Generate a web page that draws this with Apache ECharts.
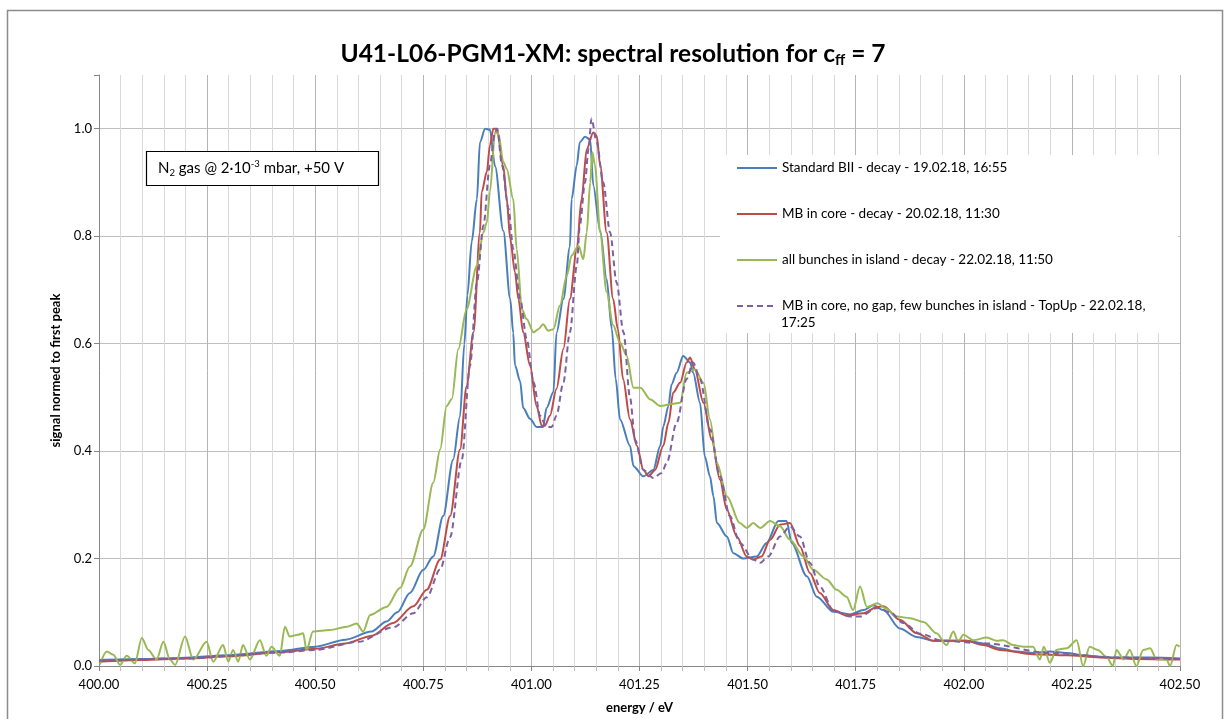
<!DOCTYPE html>
<html>
<head>
<meta charset="utf-8">
<title>U41-L06-PGM1-XM: spectral resolution</title>
<script src="https://cdn.jsdelivr.net/npm/echarts@6/dist/echarts.min.js"></script>
<style>
    html, body { margin: 0; padding: 0; background: #fff; }
    #chart { width: 1226px; height: 719px; }
</style>
</head>
<body>
<div id="chart"></div>
<script>
// [energy / eV, signal normed to first peak]
var standardBII = [
    [400.000, 0.011], [400.100, 0.013], [400.190, 0.015], [400.300, 0.020], [400.420, 0.028],
    [400.500, 0.036], [400.570, 0.049], [400.630, 0.064], [400.665, 0.083], [400.690, 0.100],
    [400.719, 0.136], [400.750, 0.179], [400.773, 0.204], [400.796, 0.279], [400.819, 0.384],
    [400.835, 0.465], [400.845, 0.600], [400.852, 0.690], [400.862, 0.790], [400.874, 0.869],
    [400.881, 0.975], [400.893, 1.000], [400.904, 0.998], [400.916, 0.930], [400.935, 0.810],
    [400.951, 0.683], [400.958, 0.620], [400.962, 0.560], [400.974, 0.530], [400.981, 0.480],
    [400.997, 0.460], [401.012, 0.445], [401.027, 0.445], [401.035, 0.480], [401.051, 0.510],
    [401.058, 0.620], [401.074, 0.683], [401.089, 0.780], [401.093, 0.869], [401.105, 0.932],
    [401.112, 0.975], [401.124, 0.985], [401.136, 0.980], [401.143, 0.895], [401.159, 0.810],
    [401.174, 0.720], [401.186, 0.627], [401.195, 0.534], [401.205, 0.459], [401.228, 0.410],
    [401.236, 0.372], [401.259, 0.353], [401.282, 0.365], [401.298, 0.410], [401.305, 0.446],
    [401.317, 0.484], [401.324, 0.524], [401.336, 0.546], [401.351, 0.577], [401.367, 0.565],
    [401.374, 0.546], [401.390, 0.490], [401.401, 0.390], [401.413, 0.353], [401.421, 0.316],
    [401.429, 0.266], [401.452, 0.241], [401.467, 0.210], [401.490, 0.200], [401.521, 0.204],
    [401.544, 0.229], [401.571, 0.270], [401.590, 0.270], [401.602, 0.229], [401.637, 0.167],
    [401.660, 0.129], [401.698, 0.101], [401.737, 0.096], [401.768, 0.104], [401.791, 0.113],
    [401.814, 0.104], [401.852, 0.070], [401.891, 0.054], [401.930, 0.047], [401.968, 0.047],
    [402.006, 0.047], [402.045, 0.042], [402.084, 0.033], [402.122, 0.027], [402.160, 0.024],
    [402.199, 0.027], [402.238, 0.024], [402.276, 0.020], [402.315, 0.017], [402.353, 0.016],
    [402.430, 0.016], [402.500, 0.014]
];

var mbInCore = [
    [400.000, 0.008], [400.100, 0.011], [400.200, 0.014], [400.300, 0.018], [400.420, 0.026],
    [400.500, 0.032], [400.570, 0.042], [400.630, 0.056], [400.680, 0.080], [400.727, 0.111],
    [400.758, 0.142], [400.789, 0.198], [400.812, 0.279], [400.835, 0.403], [400.850, 0.520],
    [400.866, 0.621], [400.881, 0.807], [400.885, 0.882], [400.897, 0.920], [400.904, 0.969],
    [400.912, 1.000], [400.920, 1.000], [400.935, 0.930], [400.943, 0.869], [400.951, 0.795],
    [400.962, 0.733], [400.970, 0.683], [400.981, 0.621], [400.997, 0.559], [401.012, 0.484],
    [401.024, 0.447], [401.031, 0.447], [401.043, 0.466], [401.058, 0.516], [401.074, 0.590],
    [401.089, 0.683], [401.105, 0.776], [401.116, 0.869], [401.128, 0.962], [401.143, 0.993],
    [401.151, 0.987], [401.159, 0.932], [401.174, 0.807], [401.189, 0.683], [401.200, 0.627],
    [401.212, 0.534], [401.228, 0.459], [401.244, 0.410], [401.259, 0.365], [401.271, 0.353],
    [401.286, 0.365], [401.305, 0.410], [401.317, 0.453], [401.328, 0.509], [401.344, 0.527],
    [401.359, 0.565], [401.367, 0.574], [401.378, 0.552], [401.398, 0.490], [401.417, 0.421],
    [401.436, 0.347], [401.452, 0.291], [401.475, 0.241], [401.498, 0.204], [401.513, 0.198],
    [401.532, 0.204], [401.552, 0.235], [401.575, 0.263], [401.598, 0.266], [401.621, 0.223],
    [401.644, 0.173], [401.667, 0.136], [401.698, 0.104], [401.729, 0.094], [401.768, 0.098],
    [401.799, 0.110], [401.814, 0.111], [401.852, 0.086], [401.891, 0.061], [401.930, 0.047],
    [402.006, 0.047], [402.045, 0.039], [402.084, 0.030], [402.160, 0.022], [402.238, 0.020],
    [402.315, 0.016], [402.400, 0.013], [402.500, 0.012]
];

var allInIsland = [
    [400.002, 0.003], [400.018, 0.027], [400.033, 0.021], [400.049, 0.002], [400.064, 0.019],
    [400.083, 0.005], [400.099, 0.052], [400.114, 0.030], [400.133, 0.012], [400.149, 0.045],
    [400.164, 0.012], [400.176, 0.002], [400.199, 0.055], [400.218, 0.012], [400.249, 0.045],
    [400.264, 0.008], [400.287, 0.039], [400.299, 0.008], [400.310, 0.030], [400.322, 0.008],
    [400.333, 0.039], [400.349, 0.012], [400.372, 0.048], [400.387, 0.019], [400.399, 0.036],
    [400.418, 0.019], [400.430, 0.073], [400.441, 0.055], [400.460, 0.058], [400.472, 0.061],
    [400.480, 0.030], [400.495, 0.064], [400.534, 0.067], [400.573, 0.073], [400.596, 0.079],
    [400.611, 0.064], [400.627, 0.095], [400.665, 0.110], [400.696, 0.145], [400.719, 0.185],
    [400.750, 0.254], [400.773, 0.341], [400.789, 0.403], [400.804, 0.484], [400.816, 0.497],
    [400.831, 0.590], [400.850, 0.664], [400.874, 0.745], [400.889, 0.807], [400.897, 0.826],
    [400.904, 0.882], [400.916, 0.994], [400.924, 0.990], [400.935, 0.938], [400.943, 0.925],
    [400.958, 0.869], [400.966, 0.776], [400.978, 0.664], [400.989, 0.646], [401.005, 0.621],
    [401.016, 0.627], [401.027, 0.636], [401.039, 0.624], [401.051, 0.627], [401.066, 0.671],
    [401.082, 0.727], [401.093, 0.764], [401.109, 0.782], [401.120, 0.757], [401.128, 0.807],
    [401.136, 0.900], [401.141, 0.956], [401.147, 0.932], [401.159, 0.807], [401.174, 0.696],
    [401.189, 0.634], [401.205, 0.602], [401.220, 0.578], [401.236, 0.518], [401.252, 0.518],
    [401.275, 0.496], [401.298, 0.484], [401.321, 0.487], [401.344, 0.490], [401.359, 0.546],
    [401.378, 0.552], [401.398, 0.527], [401.413, 0.459], [401.429, 0.378], [401.452, 0.316],
    [401.482, 0.266], [401.498, 0.257], [401.513, 0.266], [401.529, 0.257], [401.552, 0.270],
    [401.575, 0.260], [401.598, 0.235], [401.629, 0.204], [401.652, 0.179], [401.683, 0.161],
    [401.706, 0.142], [401.729, 0.129], [401.744, 0.104], [401.760, 0.148], [401.776, 0.110],
    [401.800, 0.117], [401.820, 0.107], [401.845, 0.092], [401.876, 0.089], [401.907, 0.082],
    [401.937, 0.061], [401.960, 0.039], [401.976, 0.064], [401.987, 0.045], [401.999, 0.058],
    [402.022, 0.048], [402.053, 0.053], [402.076, 0.047], [402.091, 0.048], [402.114, 0.039],
    [402.137, 0.036], [402.160, 0.036], [402.176, 0.012], [402.185, 0.036], [402.199, 0.006],
    [402.214, 0.030], [402.238, 0.033], [402.261, 0.048], [402.276, 0.000], [402.291, 0.036],
    [402.310, 0.030], [402.330, 0.017], [402.345, 0.000], [402.353, 0.030], [402.370, 0.012],
    [402.384, 0.030], [402.399, 0.000], [402.415, 0.030], [402.431, 0.033], [402.446, 0.012],
    [402.469, 0.012], [402.477, 0.000], [402.492, 0.039], [402.499, 0.036]
];

var mbTopUp = [
    [400.000, 0.010], [400.200, 0.014], [400.420, 0.025], [400.500, 0.030], [400.600, 0.045],
    [400.680, 0.072], [400.727, 0.098], [400.758, 0.128], [400.789, 0.180], [400.812, 0.240],
    [400.839, 0.384], [400.858, 0.559], [400.874, 0.714], [400.889, 0.820], [400.904, 0.932],
    [400.916, 0.994], [400.921, 1.000], [400.932, 0.932], [400.947, 0.851], [400.958, 0.776],
    [400.974, 0.683], [400.989, 0.609], [401.005, 0.528], [401.020, 0.466], [401.035, 0.445],
    [401.047, 0.445], [401.058, 0.466], [401.074, 0.528], [401.089, 0.621], [401.105, 0.745],
    [401.112, 0.820], [401.124, 0.900], [401.132, 0.962], [401.139, 1.019], [401.151, 0.975],
    [401.166, 0.900], [401.182, 0.807], [401.197, 0.714], [401.213, 0.621], [401.228, 0.500],
    [401.240, 0.420], [401.259, 0.365], [401.282, 0.350], [401.301, 0.359], [401.313, 0.378],
    [401.336, 0.453], [401.359, 0.534], [401.374, 0.565], [401.390, 0.534], [401.413, 0.440],
    [401.436, 0.353], [401.459, 0.279], [401.482, 0.229], [401.513, 0.198], [401.529, 0.192],
    [401.548, 0.204], [401.575, 0.241], [401.598, 0.260], [401.621, 0.241], [401.644, 0.192],
    [401.667, 0.148], [401.698, 0.104], [401.737, 0.092], [401.760, 0.092], [401.800, 0.108],
    [401.830, 0.100], [401.860, 0.080], [401.900, 0.060], [401.950, 0.047], [402.050, 0.042],
    [402.200, 0.024], [402.350, 0.016], [402.500, 0.013]
];

var seriesNames = [
    'Standard BII - decay - 19.02.18, 16:55',
    'MB in core - decay - 20.02.18, 11:30',
    'all bunches in island - decay - 22.02.18, 11:50',
    'MB in core, no gap, few bunches in island - TopUp - 22.02.18, 17:25'
];
// the long legend entry wraps after the date, as in the original
var wrapAt = 'MB in core, no gap, few bunches in island - TopUp - 22.02.18,';
var seriesData = [standardBII, mbInCore, allInIsland, mbTopUp];
var seriesColors = ['#4a7ebb', '#be4b48', '#98b954', '#7d60a0'];

var font = 'Lato, "Open Sans", sans-serif';

var series = seriesData.map(function (d, i) {
    return {
        name: seriesNames[i],
        type: 'line',
        data: d,
        symbol: 'none',
        smooth: 0.3,
        smoothMonotone: 'x',
        color: seriesColors[i],
        lineStyle: {
            color: seriesColors[i],
            width: 2,
            type: i === 3 ? [6, 4] : 'solid'
        }
    };
});

var option = {
    animation: false,
    backgroundColor: '#fff',
    textStyle: { fontFamily: font },
    title: {
        text: '{a|U41-L06-PGM1-XM: spectral resolution for c}{b|ff}{a| = 7}',
        left: 'center',
        top: 35,
        textStyle: {
            rich: {
                a: { fontSize: 24.5, fontWeight: 'bold', color: '#000', fontFamily: font, lineHeight: 28 },
                b: { fontSize: 15, fontWeight: 'bold', color: '#000', fontFamily: font, verticalAlign: 'bottom' }
            }
        }
    },
    legend: {
        orient: 'vertical',
        left: 720,
        top: 155,
        padding: [4, 16, 18, 16],
        itemGap: 28,
        itemWidth: 40,
        itemHeight: 14,
        backgroundColor: '#fff',
        itemStyle: { color: 'transparent', borderWidth: 0, opacity: 0 },
        formatter: function (name) {
            return name === seriesNames[3] ? wrapAt : name;
        },
        textStyle: {
            fontFamily: font,
            fontSize: 13.5,
            color: '#000',
            width: 380,
            lineHeight: 18
        },
        z: 5
    },
    grid: {
        left: 99,
        right: 46,
        top: 75,
        bottom: 53,
        containLabel: false,
        outerBoundsMode: 'none'
    },
    xAxis: {
        type: 'value',
        min: 400,
        max: 402.5,
        interval: 0.25,
        name: 'energy / eV',
        nameLocation: 'middle',
        nameGap: 35,
        nameTextStyle: { fontWeight: 'bold', fontSize: 13, color: '#000', fontFamily: font },
        axisLine: { show: true, lineStyle: { color: '#868686' } },
        axisTick: { show: true, length: 5, lineStyle: { color: '#868686' } },
        minorTick: { show: true, splitNumber: 5, length: 5, lineStyle: { color: '#bfbfbf' } },
        axisLabel: {
            formatter: function (v) { return v.toFixed(2); },
            fontSize: 13,
            color: '#000',
            fontFamily: font,
            margin: 12
        },
        splitLine: { show: true, lineStyle: { color: '#b4b4b4' } },
        minorSplitLine: { show: true, lineStyle: { color: '#d9d9d9' } }
    },
    yAxis: {
        type: 'value',
        min: 0,
        max: 1.1,
        interval: 0.2,
        name: 'signal normed to first peak',
        nameLocation: 'middle',
        nameGap: 37,
        nameTextStyle: { fontWeight: 'bold', fontSize: 13, color: '#000', fontFamily: font },
        axisLine: { show: true, lineStyle: { color: '#868686' } },
        axisTick: { show: true, length: 5, lineStyle: { color: '#868686' } },
        axisLabel: {
            formatter: function (v) { return v > 1.05 ? '' : v.toFixed(1); },
            fontSize: 13,
            color: '#000',
            fontFamily: font,
            margin: 7
        },
        splitLine: {
            show: true,
            lineStyle: { color: ['#bfbfbf', '#bfbfbf', '#bfbfbf', '#bfbfbf', '#bfbfbf', '#bfbfbf', 'rgba(0,0,0,0)'] }
        }
    },
    graphic: [
        {
            type: 'rect',
            silent: true,
            z: -10,
            shape: { x: 7.5, y: 10.5, width: 1215, height: 715 },
            style: { fill: 'none', stroke: '#8c8c8c', lineWidth: 1.5 }
        },
        {
            type: 'rect',
            silent: true,
            z: 100,
            shape: { x: 146.5, y: 151.5, width: 232, height: 34 },
            style: { fill: '#fff', stroke: '#000', lineWidth: 1.2 }
        },
        {
            type: 'text',
            silent: true,
            z: 101,
            x: 158,
            y: 168,
            style: {
                text: '{a|N}{s|2}{a| gas @ 2·10}{p|-3}{a| mbar, +50 V}',
                verticalAlign: 'middle',
                rich: {
                    a: { fontSize: 15, fontFamily: font, fill: '#000', color: '#000', lineHeight: 19 },
                    s: { fontSize: 9.5, fontFamily: font, fill: '#000', color: '#000', verticalAlign: 'bottom' },
                    p: { fontSize: 9.5, fontFamily: font, fill: '#000', color: '#000', verticalAlign: 'top' }
                }
            }
        },
        {
            type: 'text',
            silent: true,
            z: 101,
            x: 781,
            y: 323,
            style: {
                text: '17:25',
                verticalAlign: 'middle',
                fontSize: 13.5,
                fontFamily: font,
                fill: '#000'
            }
        }
    ],
    series: series
};

var myChart = echarts.init(document.getElementById('chart'));
myChart.setOption(option);
</script>
</body>
</html>
